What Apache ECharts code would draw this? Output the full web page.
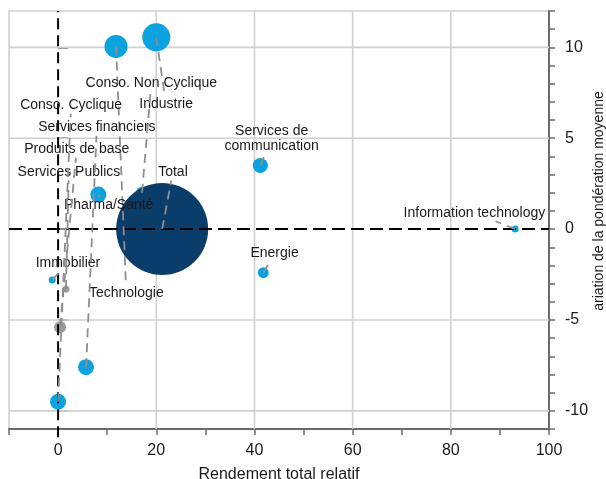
<!DOCTYPE html>
<html><head><meta charset="utf-8">
<script src="https://cdn.jsdelivr.net/npm/echarts@6/dist/echarts.min.js"></script>
<style>html,body{margin:0;padding:0;background:#fff}#c{width:606px;height:479px}</style>
</head><body><div id="c"></div>
<script>
// ---- data ----
const sectors = ['Industrie','Technologie','Services de\ncommunication','Pharma/Santé','Conso. Non Cyclique','Total','Information technology','Energie','Immobilier','Services Publics','Produits de base','Services financiers','Conso. Cyclique'];
const rendement = [20, 11.8, 41.2, 8.2, 17.1, 21.2, 93.1, 41.8, -1.2, 1.6, 0.4, 5.7, 0];
const variation = [10.55, 10.05, 3.5, 1.9, 2.0, 0, 0, -2.4, -2.8, -3.3, -5.4, -7.6, -9.5];
const poids = [9.3, 6.25, 2.7, 3.0, 1.7, 100, 0.58, 1.4, 0.58, 0.58, 1.7, 3.0, 3.0];
const groupe = ['secteur','secteur','secteur','secteur','secteur','total','secteur','secteur','secteur','autre','autre','secteur','secteur'];
const labelX = [22.0, 13.9, 43.5, 10.3, 19.0, 23.4, 84.8, 44.1, 2.0, 2.2, 3.8, 7.9, 2.65];
const labelY = [6.85, -3.55, 5.0, 1.3, 8.05, 3.15, 0.9, -1.35, -1.9, 3.15, 4.4, 5.6, 6.82];
const xGridValues = [20, 40, 60, 80];
const yGridValues = [-10, -5, 5, 10];
const xLabelStep = 20;
const yLabelStep = 5;
const xAxisTitle = 'Rendement total relatif';
const yAxisTitle = 'ariation de la pondération moyenne';

// ---- styles ----
const X_MIN = -10, X_MAX = 100, Y_MIN = -11, Y_MAX = 12;
const COLORS = { secteur: '#0AA2DF', total: '#0B3D6A', autre: '#9B9B9B' };
const FONT = '"Liberation Sans", Arial, sans-serif';
const LABEL_FONT = '14px ' + FONT;
const measureCtx = document.createElement('canvas').getContext('2d');
measureCtx.font = LABEL_FONT;
function textW(t) { return Math.max.apply(null, t.split('\n').map(s => measureCtx.measureText(s).width)); }

const chart = echarts.init(document.getElementById('c'), null, { renderer: 'canvas' });

function gridLineItem(params, api, dashed) {
  const orient = api.value(2);
  let p1, p2;
  if (orient === 0) { const x = api.value(0); p1 = api.coord([x, dashed ? Y_MIN - 0.45 : Y_MIN]); p2 = api.coord([x, Y_MAX]); }
  else { const y = api.value(1); p1 = api.coord([X_MIN, y]); p2 = api.coord([X_MAX, y]); }
  return {
    type: 'line', shape: { x1: p1[0], y1: p1[1], x2: p2[0], y2: p2[1] },
    style: dashed ? { stroke: '#000', lineWidth: 2, lineDash: orient === 0 ? [11, 6] : [13, 6] }
                  : { stroke: '#d0d0d0', lineWidth: 1.6 }
  };
}

const bubbleData = rendement.map((x, i) => [x, variation[i], poids[i]]);
const labelData = rendement.map((x, i) => [x, variation[i], labelX[i], labelY[i]]);

const option = {
  animation: false,
  grid: { left: 9, right: 57, top: 11, bottom: 50, outerBoundsMode: 'none', containLabel: false,
    show: true, borderColor: '#d0d0d0', borderWidth: 1.6, backgroundColor: 'transparent' },
  xAxis: {
    type: 'value', min: X_MIN, max: X_MAX, interval: 10,
    name: xAxisTitle, nameLocation: 'middle', nameGap: 37.5,
    nameTextStyle: { fontSize: 16, color: '#1a1a1a', fontFamily: FONT },
    axisLine: { show: true, onZero: false, lineStyle: { color: '#6b6b6b', width: 2 } },
    axisTick: { show: true, length: 6, lineStyle: { color: '#6b6b6b', width: 1.5 } },
    axisLabel: { fontSize: 16, color: '#1a1a1a', fontFamily: FONT, margin: 14,
      formatter: v => (Math.abs(v % xLabelStep) < 1e-9 ? String(v) : '') },
    splitLine: { show: false }
  },
  yAxis: [{
    type: 'value', position: 'right', min: Y_MIN, max: Y_MAX, interval: 1,
    axisLine: { show: true, onZero: false, lineStyle: { color: '#6b6b6b', width: 2 } },
    axisTick: { show: true, length: 6, lineStyle: { color: '#6b6b6b', width: 1.5 } },
    axisLabel: { fontSize: 16, color: '#1a1a1a', fontFamily: FONT, margin: 16,
      formatter: v => (Math.abs(v % yLabelStep) < 1e-9 ? String(v) : '') },
    splitLine: { show: false }
  }, {
    type: 'value', position: 'right', min: Y_MIN, max: Y_MAX, interval: 1,
    axisLine: { show: false },
    axisTick: { show: true, length: 10, customValues: [-10, -5, 0, 5, 10], lineStyle: { color: '#6b6b6b', width: 1.5 } },
    axisLabel: { show: false },
    splitLine: { show: false }
  }],
  graphic: [{
    type: 'text', x: 599, y: 201, rotation: Math.PI / 2, z: 100,
    style: { text: yAxisTitle, font: '14px ' + FONT, fill: '#1a1a1a', align: 'center', verticalAlign: 'middle' }
  }],
  series: [
    { // gridlines
      type: 'custom', z: 1, silent: true,
      data: xGridValues.map(v => [v, 0, 0]).concat(yGridValues.map(v => [0, v, 1])),
      renderItem: (params, api) => gridLineItem(params, api, false)
    },
    { // bubbles
      type: 'scatter', z: 2, silent: true,
      data: bubbleData,
      symbolSize: v => 9.2 * Math.sqrt(v[2]),
      itemStyle: { opacity: 1, color: p => COLORS[groupe[p.dataIndex]] }
    },
    { // leader lines + labels
      type: 'custom', z: 4, silent: true,
      data: labelData,
      renderItem: (params, api) => {
        const i = params.dataIndex;
        const P = api.coord([api.value(0), api.value(1)]);
        const L = api.coord([api.value(2), api.value(3)]);
        const txt = sectors[i];
        const nLines = txt.split('\n').length;
        const hw = textW(txt) / 2 + 1, hh = nLines * 7.5 + 1;
        const dx = P[0] - L[0], dy = P[1] - L[1];
        const f = Math.min(dx === 0 ? Infinity : hw / Math.abs(dx), dy === 0 ? Infinity : hh / Math.abs(dy));
        const children = [];
        if (f < 1) {
          const E = [L[0] + f * dx, L[1] + f * dy];
          children.push({ type: 'line', shape: { x1: P[0], y1: P[1], x2: E[0], y2: E[1] },
            style: { stroke: '#8e8e8e', lineWidth: 1.8, lineDash: [9, 6] } });
        }
        children.push({ type: 'text', x: L[0], y: L[1],
          style: { text: txt, font: LABEL_FONT, fill: '#1a1a1a', align: 'center', verticalAlign: 'middle', lineHeight: 15 } });
        return { type: 'group', children };
      }
    },
    { // zero lines
      type: 'custom', z: 3, silent: true,
      data: [[0, 0, 0], [0, 0, 1]],
      renderItem: (params, api) => gridLineItem(params, api, true)
    }
  ]
};
chart.setOption(option);
</script>
</body></html>
